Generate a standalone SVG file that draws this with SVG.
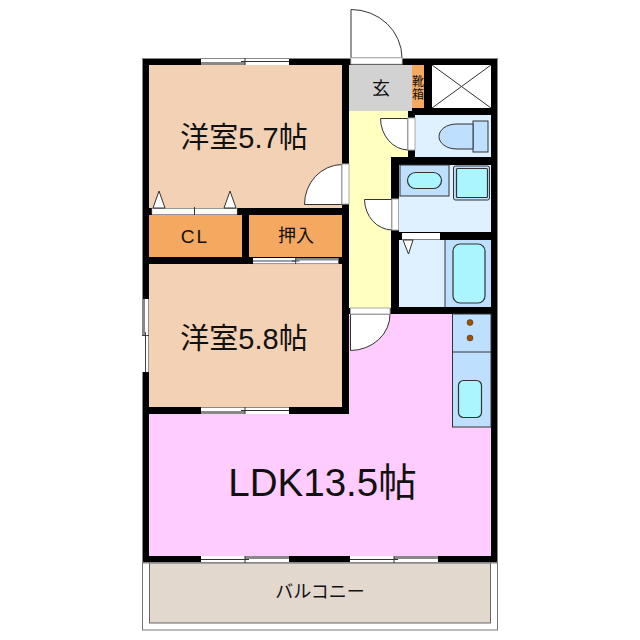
<svg xmlns="http://www.w3.org/2000/svg" width="640" height="640" viewBox="0 0 640 640">
<style>
text{font-family:"Liberation Sans","Noto Sans CJK JP",sans-serif;fill:#111;text-anchor:middle}
.w{fill:#000;stroke:#888;stroke-width:1}
.l{fill:none;stroke:#333;stroke-width:1}
.d{fill:#fff;stroke:#333;stroke-width:1}
.s{fill:#bfdfff;stroke:#333;stroke-width:1}
.t{fill:#aaf5ff;stroke:#333;stroke-width:1.2}
</style>
<defs>
<g id="win-a"><rect x="0" y="0" width="88" height="7" fill="#fff"/><path d="M0 .5H88" stroke="#888" fill="none"/><path d="M0 5.500H44" stroke="#888" stroke-width="3" fill="none"/><path d="M44 3.500H88" stroke="#333" fill="none"/><path d="M44 0V7M40 3.500H48" stroke="#333" fill="none"/></g>
<g id="win-b"><rect x="0" y="0" width="88" height="7" fill="#fff"/><path d="M0 6.500H88" stroke="#888" fill="none"/><path d="M44 1.500H88" stroke="#888" stroke-width="3" fill="none"/><path d="M0 3.500H44" stroke="#333" fill="none"/><path d="M44 0V7M40 3.500H48" stroke="#333" fill="none"/></g>
</defs>
<g id="balcony"><rect x="142.500" y="563" width="355" height="67" fill="#fff" stroke="#777"/><rect x="149.500" y="563" width="341" height="60" fill="#e2d8ce" stroke="#666"/><text x="320" y="598" font-size="18">バルコニー</text></g>
<g id="walls"><rect class="w" x="142.500" y="58.500" width="355" height="504"/></g>
<g id="room-57"><rect x="149" y="65" width="193" height="143" fill="#f3d1b5"/><text x="244" y="148" font-size="29">洋室5.7帖</text></g>
<g id="room-58"><rect x="149" y="264" width="193" height="143" fill="#f3d1b5"/><text x="244" y="349" font-size="29">洋室5.8帖</text></g>
<g id="closet-cl"><rect x="149" y="215" width="93" height="42" fill="#f4a860"/><text x="195" y="243" font-size="19" letter-spacing="2">CL</text></g>
<g id="closet-oshiire"><rect x="249" y="215" width="93" height="42" fill="#f4a860"/><text x="296" y="242" font-size="18">押入</text></g>
<g id="ldk"><path d="M349 314H491V556H149V414H349Z" fill="#ffccff"/><text x="322.500" y="496" font-size="38.500">LDK13.5帖</text></g>
<g id="hall"><rect x="349" y="111" width="42" height="197" fill="#ffffc0"/><rect x="391" y="111" width="17" height="46" fill="#ffffc0"/></g>
<g id="genkan"><rect x="349" y="65" width="63" height="46" fill="#d2d2d2"/><text x="381" y="95" font-size="18">玄</text></g>
<g id="shoebox"><rect x="412" y="65" width="12" height="43" fill="#f4a860"/><text x="418" y="86" font-size="12">靴</text><text x="418" y="99" font-size="12">箱</text></g>
<g id="shaft"><rect x="432" y="65" width="59" height="43" fill="#fff"/><path class="l" d="M432 65L491 108M491 65L432 108"/></g>
<g id="toilet"><rect x="415" y="115" width="76" height="42" fill="#dff0ff"/><rect class="s" x="473" y="121" width="15" height="31"/><path class="s" d="M473 124H457C446 124 439 130 439 136.500C439 143 446 149 457 149H473Z"/></g>
<g id="washroom"><rect x="399" y="165" width="92" height="67" fill="#dff0ff"/><rect class="s" x="400" y="165" width="49" height="31"/><rect class="t" x="407.500" y="172.500" width="34" height="16" rx="8"/><rect class="s" x="453.500" y="166" width="36" height="34" rx="2"/><rect class="t" x="456.500" y="168.500" width="31" height="29" rx="1"/></g>
<g id="bathroom"><rect x="399" y="240" width="92" height="67" fill="#dff0ff"/><rect x="445" y="240" width="46" height="67" fill="#bfdfff"/><path class="l" d="M445 240V307"/><rect class="t" x="453" y="244" width="32" height="59" rx="7"/></g>
<g id="kitchen"><rect class="s" x="452.500" y="314" width="38.500" height="113"/><path class="l" d="M452.500 352H491"/><circle cx="470" cy="322.500" r="3" fill="#a05000" stroke="#333" stroke-width=".5"/><circle cx="470" cy="338" r="3" fill="#a05000" stroke="#333" stroke-width=".5"/><rect class="t" x="458.500" y="380.500" width="23" height="37" rx="5"/></g>
<g id="windows">
<use href="#win-a" x="201" y="58"/><use href="#win-a" x="201" y="407"/><use href="#win-b" x="201" y="556"/><use href="#win-b" x="350" y="556"/>
<use href="#win-b" transform="translate(253 258) scale(.97 .86)"/>
<use href="#win-a" transform="translate(149 299) rotate(90) scale(.83 1)"/>
</g>
<g id="doors">
<path class="d" d="M351 58V9.500A51 48.500 0 0 1 402 58Z"/><rect x="351" y="58" width="51" height="6" fill="#fff" stroke="#ccc"/>
<path class="d" d="M342 204.500H304.500A38 40 0 0 1 342 164.500Z"/><rect x="342" y="164" width="7" height="40" fill="#fff" stroke="#aaa"/>
<path class="d" d="M408 118.500H380.500A28 32 0 0 0 408 150Z"/><rect x="408" y="118" width="7" height="32" fill="#fff" stroke="#aaa"/>
<path class="d" d="M392 199.500H364.500A28 31 0 0 0 392 230Z"/><rect x="392" y="199" width="6.500" height="31" fill="#fff" stroke="#aaa"/>
<path class="d" d="M350.500 314V350.500A40 36 0 0 0 390 314Z"/><rect x="350.500" y="308" width="39.500" height="6" fill="#fff" stroke="#aaa"/>
<rect x="402" y="233" width="38" height="6.500" fill="#fff"/><path class="d" d="M403 240L413 240L408.500 254Z"/>
<rect x="152" y="208.500" width="85" height="6" fill="#fff" stroke="#aaa" stroke-width=".5"/><path class="l" d="M194.500 207V215"/>
<path class="d" d="M153 208L165 208L159 191Z"/><path class="d" d="M224 208L236 208L230 191Z"/>
</g>
</svg>
